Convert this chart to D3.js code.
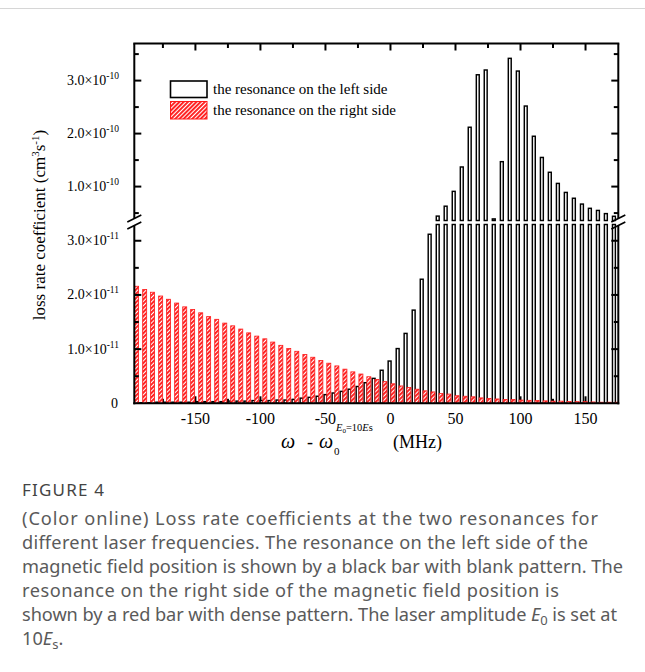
<!DOCTYPE html>
<html>
<head>
<meta charset="utf-8">
<script src="https://cdn.jsdelivr.net/npm/d3@7"></script>
<style>
  body { margin: 0; background: #fff; }
  svg { display: block; }
</style>
</head>
<body>
<script>
// Laser detuning of each bar group (MHz)
const freqs = [
  -196.5, -190.3, -184.2, -178.0, -171.9, -165.7, -159.5, -153.4, -147.2, -141.1,
  -134.9, -128.7, -122.6, -116.4, -110.3, -104.1,  -97.9,  -91.8,  -85.6,  -79.5,
   -73.3,  -67.1,  -61.0,  -54.8,  -48.7,  -42.5,  -36.3,  -30.2,  -24.0,  -17.9,
   -11.7,   -5.5,    0.6,    6.8,   12.9,   19.1,   25.3,   31.4,   37.6,   43.7,
    49.9,   56.1,   62.2,   68.4,   74.5,   80.7,   86.9,   93.0,   99.2,  105.3,
   111.5,  117.7,  123.8,  130.0,  136.1,  142.3,  148.5,  154.6,  160.8,  166.9,
   173.1
];

// Loss rate coefficient, resonance on the left side (units of 1e-11 cm^3 s^-1)
const leftRes = [
  0.01, 0.01, 0.01, 0.02, 0.02, 0.02, 0.02, 0.02, 0.03, 0.03,
  0.03, 0.03, 0.04, 0.04, 0.04, 0.05, 0.05, 0.05, 0.06, 0.06,
  0.07, 0.095, 0.11, 0.13, 0.16, 0.19, 0.22, 0.26, 0.31, 0.38,
  0.46, 0.61, 0.78, 1.01, 1.29, 1.72, 2.29, 3.12, 4.43, 6.3,
  9.1, 13.7, 21.2, 31.1, 32.0, 3.9, 14.7, 34.2, 31.8, 25.2,
  19.5, 15.5, 12.7, 10.6, 8.9, 7.8, 6.7, 5.9, 5.5, 4.9,
  4.4
];

// Loss rate coefficient, resonance on the right side (units of 1e-11 cm^3 s^-1)
const rightRes = [
  2.16, 2.10, 2.05, 1.98, 1.92, 1.85, 1.78, 1.73, 1.67, 1.60,
  1.55, 1.48, 1.43, 1.37, 1.30, 1.24, 1.19, 1.13, 1.07, 1.01,
  0.96, 0.90, 0.85, 0.79, 0.74, 0.69, 0.63, 0.58, 0.54, 0.49,
  0.44, 0.40, 0.36, 0.32, 0.29, 0.26, 0.23, 0.21, 0.18, 0.17,
  0.14, 0.13, 0.12, 0.10, 0.09, 0.08, 0.07, 0.07, 0.06, 0.055,
  0.05, 0.045, 0.04, 0.04, 0.035, 0.03, 0.03, 0.025, 0.02, 0.02,
  0.02
];

const seriesNames = ["the resonance on the left side", "the resonance on the right side"];

const xTicks = [-150, -100, -50, 0, 50, 100, 150];
const xMinorTicks = [-175, -125, -75, -25, 25, 75, 125];

// y ticks below the break (1e-11 units) and above it
const yLowTicks = [1, 2, 3];
const yLowTickLabels = ["1.0×10", "2.0×10", "3.0×10"];
const yLowMinor = [0.5, 1.5, 2.5];
const yHighTicks = [10, 20, 30];
const yHighTickLabels = ["1.0×10", "2.0×10", "3.0×10"];
const yHighMinor = [5, 15, 25, 35];

const captionLines = [
  "(Color online) Loss rate coefficients at the two resonances for",
  "different laser frequencies. The resonance on the left side of the",
  "magnetic field position is shown by a black bar with blank pattern. The",
  "resonance on the right side of the magnetic field position is"
];
const captionWidths = [576, 566, 601, 537, 595, 38];

// ---------------------------------------------------------------------------
const W = 645, H = 672;
const P = { l: 134.3, r: 618.3, t: 43.5, b: 403.3 };
const BRK = { lowTop: 224.5, highBot: 220.5, gapTop: 218.5, gapBot: 225.5 };
const serif = "'Liberation Serif', 'Times New Roman', serif";
const sans = "'Noto Sans', 'Open Sans', sans-serif";
const RED = "#ff1a1a";

const svg = d3.select("body").append("svg").attr("width", W).attr("height", H);

const x = d3.scaleLinear().domain([-197, 175.2]).range([P.l, P.r]);
const yLow = d3.scaleLinear().domain([0, 3.3]).range([P.b, BRK.lowTop]);
const yHigh = d3.scaleLinear().domain([3.6, 37]).range([BRK.highBot, P.t]);
const BREAK_VAL = 3.3;

const defs = svg.append("defs");
const hatch = defs.append("pattern")
  .attr("id", "hatch").attr("patternUnits", "userSpaceOnUse")
  .attr("width", 3).attr("height", 3)
  .attr("patternTransform", "rotate(45)");
hatch.append("rect").attr("width", 3).attr("height", 3).attr("fill", "#fff");
hatch.append("rect").attr("width", 1.9).attr("height", 3).attr("fill", RED);

defs.append("clipPath").attr("id", "plotClip")
  .append("rect").attr("x", P.l).attr("y", P.t).attr("width", P.r - P.l).attr("height", P.b - P.t);

// thin rule above the figure block
svg.append("line").attr("x1", 0).attr("x2", W).attr("y1", 8.5).attr("y2", 8.5)
  .attr("stroke", "#d6d6d6").attr("stroke-width", 1);

// bottom axis ticks (inward) sit beneath the bars
const gUnder = svg.append("g");
xTicks.forEach(t => gUnder.append("line").attr("x1", x(t)).attr("x2", x(t))
  .attr("y1", P.b).attr("y2", P.b - 7).attr("stroke", "#000").attr("stroke-width", 2));
xMinorTicks.forEach(t => gUnder.append("line").attr("x1", x(t)).attr("x2", x(t))
  .attr("y1", P.b).attr("y2", P.b - 4.5).attr("stroke", "#000").attr("stroke-width", 2));

const gBars = svg.append("g").attr("clip-path", "url(#plotClip)");
const OFF = 1.65;
const BW = 2.9, BSW = 1.45;

const leftData = freqs.map((f, i) => ({ f, v: leftRes[i] }));
const rightData = freqs.map((f, i) => ({ f, v: rightRes[i] }));

// left-side resonance: open black bars, split across the break
gBars.selectAll("rect.leftLow").data(leftData).join("rect")
  .attr("class", "leftLow")
  .attr("x", d => x(d.f) - OFF - BW / 2)
  .attr("width", BW)
  .attr("y", d => yLow(Math.min(d.v, BREAK_VAL)))
  .attr("height", d => P.b - yLow(Math.min(d.v, BREAK_VAL)))
  .attr("fill", "#fff").attr("stroke", "#000").attr("stroke-width", BSW);

gBars.selectAll("rect.leftHigh").data(leftData.filter(d => d.v > BREAK_VAL)).join("rect")
  .attr("class", "leftHigh")
  .attr("x", d => x(d.f) - OFF - BW / 2)
  .attr("width", BW)
  .attr("y", d => yHigh(d.v))
  .attr("height", d => BRK.highBot - yHigh(d.v))
  .attr("fill", "#fff").attr("stroke", "#000").attr("stroke-width", BSW);

// right-side resonance: red bars with dense hatch
gBars.selectAll("rect.right").data(rightData).join("rect")
  .attr("class", "right")
  .attr("x", d => x(d.f) + OFF - 2)
  .attr("width", 4)
  .attr("y", d => yLow(d.v))
  .attr("height", d => P.b - yLow(d.v))
  .attr("fill", "url(#hatch)").attr("stroke", RED).attr("stroke-width", 0.8);

// frame
const ax = svg.append("g").attr("stroke", "#000").attr("stroke-width", 2).attr("fill", "none");
ax.append("line").attr("x1", P.l - 1).attr("x2", P.r + 1).attr("y1", P.t).attr("y2", P.t);
ax.append("line").attr("x1", P.l - 1).attr("x2", P.r + 1).attr("y1", P.b).attr("y2", P.b);
[P.l, P.r].forEach(xx => {
  ax.append("line").attr("x1", xx).attr("x2", xx).attr("y1", P.t).attr("y2", BRK.gapTop);
  ax.append("line").attr("x1", xx).attr("x2", xx).attr("y1", BRK.gapBot).attr("y2", P.b + 1);
  // break marks
  [BRK.gapTop, BRK.gapBot].forEach(yy => {
    ax.append("line").attr("x1", xx - 7).attr("x2", xx + 7)
      .attr("y1", yy + 3.5).attr("y2", yy - 3.5).attr("stroke-width", 1.6);
  });
});

// y ticks on both sides, inward
function yTick(yy, len) {
  ax.append("line").attr("x1", P.l).attr("x2", P.l + len).attr("y1", yy).attr("y2", yy);
  ax.append("line").attr("x1", P.r).attr("x2", P.r - len).attr("y1", yy).attr("y2", yy);
}
yLowTicks.forEach(t => yTick(yLow(t), 7));
yLowMinor.forEach(t => yTick(yLow(t), 4.5));
yHighTicks.forEach(t => yTick(yHigh(t), 7));
yHighMinor.forEach(t => yTick(yHigh(t), 4.5));

// top ticks, inward
xTicks.forEach(t => ax.append("line").attr("x1", x(t)).attr("x2", x(t)).attr("y1", P.t).attr("y2", P.t + 7));
xMinorTicks.forEach(t => ax.append("line").attr("x1", x(t)).attr("x2", x(t)).attr("y1", P.t).attr("y2", P.t + 4.5));

// tick labels
const lab = svg.append("g").attr("font-family", serif).attr("fill", "#000");
function yLabel(yy, main, exp) {
  const t = lab.append("text").attr("x", 119).attr("y", yy + 4.5)
    .attr("text-anchor", "end").attr("font-size", 14);
  t.append("tspan").text(main);
  t.append("tspan").attr("font-size", 9.5).attr("dy", -6).text(exp);
}
yLowTicks.forEach((t, i) => yLabel(yLow(t), yLowTickLabels[i], "-11"));
yHighTicks.forEach((t, i) => yLabel(yHigh(t), yHighTickLabels[i], "-10"));
lab.append("text").attr("x", 118).attr("y", P.b + 4.5).attr("text-anchor", "end")
  .attr("font-size", 14).text("0");

xTicks.forEach(t => lab.append("text").attr("x", x(t)).attr("y", 424)
  .attr("text-anchor", "middle").attr("font-size", 16).text(t));

// axis titles
const yt = lab.append("text").attr("transform", "translate(45,225) rotate(-90)")
  .attr("text-anchor", "middle").attr("font-size", 17);
yt.append("tspan").text("loss rate coefficient (cm");
yt.append("tspan").attr("font-size", 11).attr("dy", -6).text("3");
yt.append("tspan").attr("dy", 6).text("s");
yt.append("tspan").attr("font-size", 11).attr("dy", -6).text("-1");
yt.append("tspan").attr("dy", 6).text(")");

lab.append("text").attr("x", 281).attr("y", 448).attr("font-size", 20)
  .attr("font-style", "italic").text("ω");
lab.append("text").attr("x", 307).attr("y", 448).attr("font-size", 18).text("-");
lab.append("text").attr("x", 319).attr("y", 448).attr("font-size", 20)
  .attr("font-style", "italic").text("ω");
lab.append("text").attr("x", 334).attr("y", 455).attr("font-size", 11).text("0");
const sup = lab.append("text").attr("x", 336).attr("y", 431).attr("font-size", 10.5);
sup.append("tspan").attr("font-style", "italic").text("E");
sup.append("tspan").attr("font-size", 7).attr("dy", 2).text("0");
sup.append("tspan").attr("dy", -2).text("=10");
sup.append("tspan").attr("font-style", "italic").text("E");
sup.append("tspan").text("s");
lab.append("text").attr("x", 393).attr("y", 448).attr("font-size", 18).text("(MHz)");

// legend
const lg = svg.append("g");
lg.append("rect").attr("x", 170.5).attr("y", 81).attr("width", 36.5).attr("height", 16.5)
  .attr("fill", "#fff").attr("stroke", "#000").attr("stroke-width", 1.6);
lg.append("rect").attr("x", 170.5).attr("y", 101.5).attr("width", 36.5).attr("height", 17.5)
  .attr("fill", "url(#hatch)").attr("stroke", RED).attr("stroke-width", 1);
seriesNames.forEach((s, i) => lg.append("text").attr("x", 213).attr("y", 94 + i * 20.5)
  .attr("font-family", serif).attr("font-size", 15).text(s));

// caption
const cap = svg.append("g").attr("font-family", sans).attr("fill", "#5a5a5a");
cap.append("text").attr("x", 22).attr("y", 496).attr("font-size", 17)
  .attr("letter-spacing", 1.2).attr("fill", "#444").text("FIGURE 4");
captionLines.forEach((s, i) => cap.append("text").attr("x", 22).attr("y", 525 + i * 24)
  .attr("font-size", 18.2).attr("textLength", captionWidths[i])
  .attr("lengthAdjust", "spacing").text(s));
const l5 = cap.append("text").attr("x", 22).attr("y", 525 + 4 * 24).attr("font-size", 18.2)
  .attr("textLength", captionWidths[4]).attr("lengthAdjust", "spacing");
l5.append("tspan").text("shown by a red bar with dense pattern. The laser amplitude ");
l5.append("tspan").attr("font-style", "italic").text("E");
l5.append("tspan").attr("font-size", 13).attr("dy", 4).text("0");
l5.append("tspan").attr("dy", -4).text(" is set at");
const l6 = cap.append("text").attr("x", 22).attr("y", 525 + 5 * 24).attr("font-size", 18.2);
l6.append("tspan").text("10");
l6.append("tspan").attr("font-style", "italic").text("E");
l6.append("tspan").attr("font-size", 13).attr("dy", 4).text("s");
l6.append("tspan").attr("dy", -4).text(".");
</script>
</body>
</html>
